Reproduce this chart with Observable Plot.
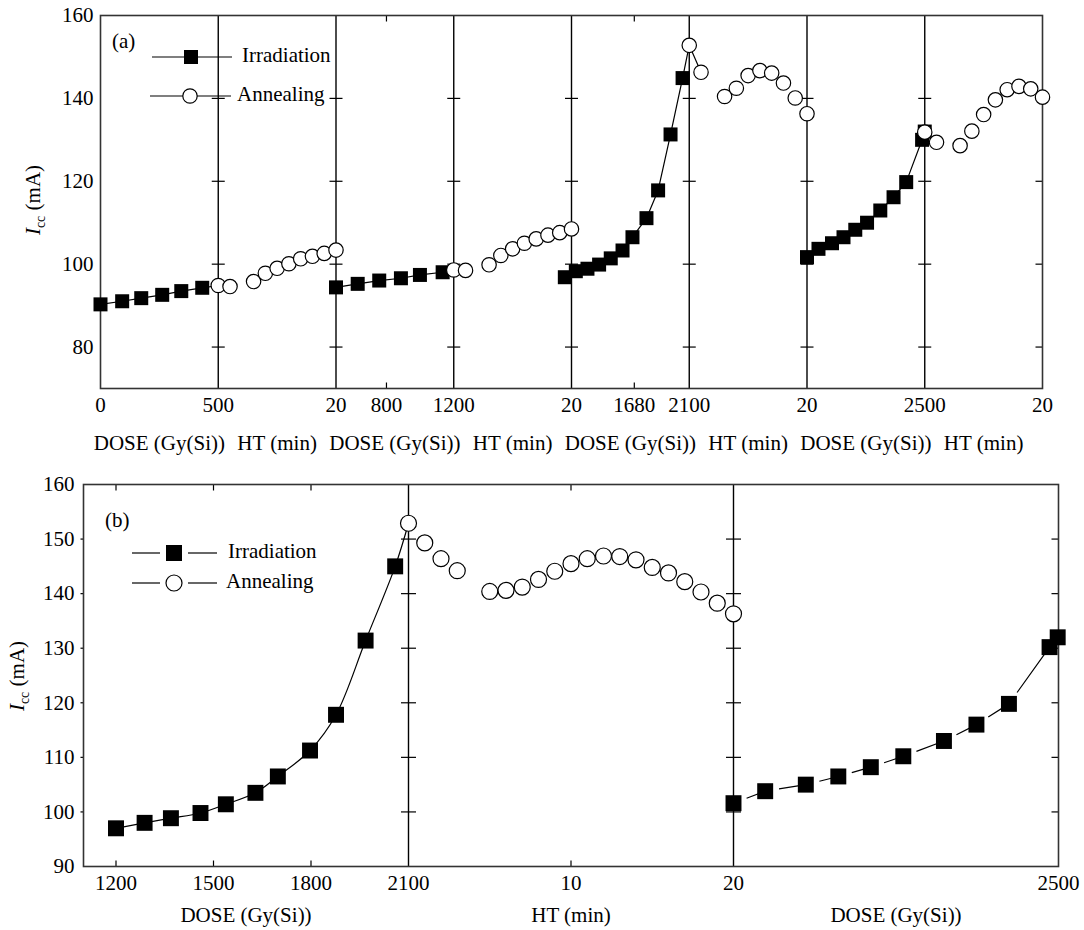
<!DOCTYPE html>
<html><head><meta charset="utf-8">
<script src="https://cdn.jsdelivr.net/npm/d3@7"></script>
<script src="https://cdn.jsdelivr.net/npm/@observablehq/plot@0.6"></script>
<style>
body{margin:0;background:#fff;}
#wrap{width:1084px;height:930px;}
#wrap svg{display:block;}
#wrap svg text, #wrap svg tspan{font-family:"Liberation Serif","Times New Roman",serif !important;}
</style></head><body><div id="wrap"></div>
<script>
// ---------- Panel (a) ----------
const segStartA = [0, 0, 500, 0, 1200, 0, 2100, 0];
const segEndA   = [500, 20, 1200, 20, 2100, 20, 2500, 20];
const segTitleA = ["DOSE (Gy(Si))","HT (min)","DOSE (Gy(Si))","HT (min)","DOSE (Gy(Si))","HT (min)","DOSE (Gy(Si))","HT (min)"];

const irrA1Dose = [0, 92, 173, 262, 343, 432];
const irrA1Icc  = [90.3, 91.05, 91.8, 92.6, 93.5, 94.3];
const annA1Min  = [0, 2, 6, 8, 10, 12, 14, 16, 18, 20];
const annA1Icc  = [94.85, 94.6, 95.8, 97.8, 99.0, 100.1, 101.3, 101.9, 102.6, 103.4];
const irrA2Dose = [500, 629, 757, 886, 999, 1134];
const irrA2Icc  = [94.4, 95.25, 96.05, 96.6, 97.4, 98.05];
const annA2Min  = [0, 2, 6, 8, 10, 12, 14, 16, 18, 20];
const annA2Icc  = [98.6, 98.5, 99.85, 102.1, 103.7, 105.05, 106.1, 107.0, 107.6, 108.5];
const irrA3Dose = [1149, 1233, 1322, 1411, 1500, 1590, 1666, 1773, 1862, 1957, 2049];
const irrA3Icc  = [96.85, 98.3, 98.9, 99.9, 101.4, 103.3, 106.5, 111.1, 117.8, 131.3, 144.9];
const annA3Min  = [0, 2, 6, 8, 10, 12, 14, 16, 18, 20];
const annA3Icc  = [152.8, 146.3, 140.45, 142.45, 145.5, 146.7, 146.1, 143.7, 140.1, 136.3];
const irrA4Dose = [2100, 2139, 2185, 2224, 2264, 2304, 2349, 2394, 2437, 2491, 2500];
const irrA4Icc  = [101.7, 103.7, 105.05, 106.5, 108.3, 110.0, 112.95, 116.15, 119.8, 130.0, 132.0];
const annA4Min  = [0, 2, 6, 8, 10, 12, 14, 16, 18, 20];
const annA4Icc  = [131.85, 129.4, 128.6, 132.1, 136.1, 139.65, 142.1, 142.9, 142.3, 140.3];

const tickSegA  = [0, 0, 1, 2, 2, 3, 4, 4, 5, 6, 7];
const tickValA  = [0, 500, 20, 800, 1200, 20, 1680, 2100, 20, 2500, 20];
const minorSegA = [2, 4];
const minorValA = [800, 1680];
const yTicksA   = [80, 100, 120, 140, 160];
const yInnerA   = [80, 100, 120, 140];

// ---------- Panel (b) ----------
const segStartB = [1100, 0, 2100];
const segEndB   = [2100, 20, 2500];
const segTitleB = ["DOSE (Gy(Si))","HT (min)","DOSE (Gy(Si))"];

const irrB1Dose = [1200, 1288, 1369, 1460, 1538, 1629, 1698, 1797, 1877, 1968, 2059];
const irrB1Icc  = [97.0, 98.0, 98.85, 99.8, 101.4, 103.5, 106.5, 111.25, 117.8, 131.4, 145.0];
const annBMin   = [0, 1, 2, 3, 5, 6, 7, 8, 9, 10, 11, 12, 13, 14, 15, 16, 17, 18, 19, 20];
const annBIcc   = [152.9, 149.3, 146.4, 144.2, 140.4, 140.6, 141.2, 142.6, 144.1, 145.5, 146.4, 146.9, 146.8, 146.2, 144.8, 143.8, 142.2, 140.3, 138.25, 136.3];
const irrB2Dose = [2100, 2139, 2189, 2229, 2269, 2309, 2359, 2399, 2439, 2489, 2499];
const irrB2Icc  = [101.6, 103.8, 105.0, 106.5, 108.2, 110.2, 113.0, 116.0, 119.8, 130.2, 132.0];

const tickSegB  = [0, 0, 0, 0, 1, 1, 2];
const tickValB  = [1200, 1500, 1800, 2100, 10, 20, 2500];
const minorSegB = [0, 0, 0, 1];
const minorValB = [1200, 1500, 1800, 10];
const yTicksB   = [90, 100, 110, 120, 130, 140, 150, 160];
const yInnerB   = [100, 110, 120, 130, 140, 150];

const legendLabels = ["Irradiation", "Annealing"];
const yTitleUnit = " (mA)";

// ---------- helpers ----------
const FONT = '"Liberation Serif","Times New Roman",serif';
const FS = 21;
const mkPos = (starts, ends) => (seg, v) => seg + (v - starts[seg]) / (ends[seg] - starts[seg]);
const pA = mkPos(segStartA, segEndA);
const pB = mkPos(segStartB, segEndB);
const seq = (f, seg, xs, ys, run) => xs.map((v, i) => ({x: f(seg, v), y: ys[i], run}));
const segSym = (x1, y1, x2, y2) => ({draw(ctx, size) { const r = Math.sqrt(size / Math.PI); ctx.moveTo(x1 * r, y1 * r); ctx.lineTo(x2 * r, y2 * r); }});
const hCross = segSym(-1, 0, 1, 0), hLeft = segSym(-1, 0, 0, 0), vUp = segSym(0, -1, 0, 0), vDown = segSym(0, 0, 0, 1);
const tickStyle = {fill: "none", stroke: "black", strokeWidth: 1.2};
const txt = {fontFamily: FONT, fontSize: FS, fill: "black"};

function addYTitle(svg, x, y) {
  const t = d3.select(svg).append("text")
    .attr("transform", `translate(${x},${y}) rotate(-90)`)
    .attr("text-anchor", "middle").attr("font-family", FONT).attr("font-size", FS).attr("fill", "black");
  t.append("tspan").attr("font-style", "italic").text("I");
  t.append("tspan").attr("font-size", 14).attr("dy", 5).text("cc");
  t.append("tspan").attr("dy", -5).text(yTitleUnit);
}

// ---------- build panel (a) ----------
const irrSetsA = [[irrA1Dose, irrA1Icc], [irrA2Dose, irrA2Icc], [irrA3Dose, irrA3Icc], [irrA4Dose, irrA4Icc]];
const annSetsA = [[annA1Min, annA1Icc], [annA2Min, annA2Icc], [annA3Min, annA3Icc], [annA4Min, annA4Icc]];
const sqA = irrSetsA.flatMap(([d, v], k) => seq(pA, 2 * k, d, v, k));
const ciA = annSetsA.flatMap(([t, v], k) => seq(pA, 2 * k + 1, t, v, k));
const irrLineA = irrSetsA.flatMap(([d, v], k) => [...seq(pA, 2 * k, d, v, k), ...seq(pA, 2 * k + 1, annSetsA[k][0].slice(0, 1), annSetsA[k][1].slice(0, 1), k)]);
const annLineA = annSetsA.flatMap(([t, v], k) => seq(pA, 2 * k + 1, t.slice(0, 2), v.slice(0, 2), k));
const dividersA = d3.range(1, segStartA.length);
const crossA = dividersA.flatMap(x => yInnerA.map(y => ({x, y})));
const rightA = yInnerA.map(y => ({x: segStartA.length, y}));
const minorA = minorValA.map((v, i) => ({x: pA(minorSegA[i], v)}));
const ticksA = tickValA.map((v, i) => ({x: pA(tickSegA[i], v), label: String(v)}));
const titlesA = segTitleA.map((t, i) => ({x: i + 0.5, t}));

const plotA = Plot.plot({
  width: 1084, height: 465, marginLeft: 100, marginRight: 42, marginTop: 15, marginBottom: 77,
  x: {domain: [0, segStartA.length], axis: null},
  y: {domain: [70, 160], axis: null},
  style: "background: white; overflow: visible;",
  marks: [
    Plot.ruleX(dividersA, {stroke: "black", strokeWidth: 1.4}),
    Plot.dot(crossA, {x: "x", y: "y", symbol: hCross, r: 6.5, ...tickStyle}),
    Plot.dot(rightA, {x: "x", y: "y", symbol: hLeft, r: 7, ...tickStyle}),
    Plot.dot(minorA, {x: "x", frameAnchor: "bottom", symbol: vUp, r: 6, ...tickStyle}),
    Plot.dot(minorA, {x: "x", frameAnchor: "top", symbol: vDown, r: 6, ...tickStyle}),
    Plot.frame({stroke: "#333", strokeWidth: 1.6}),
    Plot.line(irrLineA, {x: "x", y: "y", z: "run", stroke: "black", strokeWidth: 1.2}),
    Plot.line(annLineA, {x: "x", y: "y", z: "run", stroke: "black", strokeWidth: 1.2}),
    Plot.dot(sqA, {x: "x", y: "y", symbol: "square", r: 7.9, fill: "black"}),
    Plot.dot(ciA, {x: "x", y: "y", symbol: "circle", r: 7.2, fill: "white", stroke: "black", strokeWidth: 1.2}),
    Plot.text(ticksA, {x: "x", text: "label", frameAnchor: "bottom", dy: 17, lineAnchor: "middle", ...txt}),
    Plot.text(yTicksA, {y: d => d, text: d => String(d), frameAnchor: "left", dx: -7, textAnchor: "end", lineAnchor: "middle", ...txt}),
    Plot.text(titlesA, {x: "x", text: "t", frameAnchor: "bottom", dy: 55, lineAnchor: "middle", ...txt})
  ]
});

// ---------- build panel (b) ----------
const sqB1 = seq(pB, 0, irrB1Dose, irrB1Icc, 0);
const ciB = seq(pB, 1, annBMin, annBIcc, 1);
const sqB2 = seq(pB, 2, irrB2Dose, irrB2Icc, 2);
const curveB = [...sqB1, ciB[0]];
const pairsB2 = sqB2.slice(0, -1).map((d, i) => ({x1: d.x, y1: d.y, x2: sqB2[i + 1].x, y2: sqB2[i + 1].y}));
const dividersB = d3.range(1, segStartB.length);
const crossB = dividersB.flatMap(x => yInnerB.map(y => ({x, y})));
const rightB = yInnerB.map(y => ({x: segStartB.length, y}));
const leftB = yInnerB.map(y => ({x: 0, y}));
const minorB = minorValB.map((v, i) => ({x: pB(minorSegB[i], v)}));
const ticksB = tickValB.map((v, i) => ({x: pB(tickSegB[i], v), label: String(v)}));
const titlesB = segTitleB.map((t, i) => ({x: i + 0.5, t}));

const plotB = Plot.plot({
  width: 1084, height: 465, marginLeft: 83, marginRight: 26, marginTop: 19, marginBottom: 64,
  x: {domain: [0, segStartB.length], axis: null},
  y: {domain: [90, 160], axis: null},
  style: "background: white; overflow: visible;",
  marks: [
    Plot.ruleX(dividersB, {stroke: "black", strokeWidth: 1.4}),
    Plot.dot(crossB, {x: "x", y: "y", symbol: hCross, r: 7.5, ...tickStyle}),
    Plot.dot(rightB, {x: "x", y: "y", symbol: hLeft, r: 7, ...tickStyle}),
    Plot.dot(leftB, {x: "x", y: "y", symbol: hLeft, r: 3, ...tickStyle}),
    Plot.dot(minorB, {x: "x", frameAnchor: "bottom", symbol: vUp, r: 6, ...tickStyle}),
    Plot.dot(minorB, {x: "x", frameAnchor: "top", symbol: vDown, r: 6, ...tickStyle}),
    Plot.frame({stroke: "#333", strokeWidth: 1.6}),
    Plot.line(curveB, {x: "x", y: "y", curve: "catmull-rom", stroke: "black", strokeWidth: 1.2}),
    Plot.link(pairsB2, {x1: "x1", y1: "y1", x2: "x2", y2: "y2", strokeDasharray: "0 14 2000", stroke: "black", strokeWidth: 1.2}),
    Plot.dot([...sqB1, ...sqB2], {x: "x", y: "y", symbol: "square", r: 9, fill: "black"}),
    Plot.dot(ciB, {x: "x", y: "y", symbol: "circle", r: 8, fill: "white", stroke: "black", strokeWidth: 1.2}),
    Plot.text(ticksB, {x: "x", text: "label", frameAnchor: "bottom", dy: 17, lineAnchor: "middle", ...txt}),
    Plot.text(yTicksB, {y: d => d, text: d => String(d), frameAnchor: "left", dx: -9, textAnchor: "end", lineAnchor: "middle", ...txt}),
    Plot.text(titlesB, {x: "x", text: "t", frameAnchor: "bottom", dy: 49, lineAnchor: "middle", ...txt})
  ]
});

// ---------- legends, panel letters, y titles ----------
function legend(svg, o) {
  const g = d3.select(svg).append("g").attr("font-family", FONT).attr("font-size", FS).attr("fill", "black").attr("text-anchor", "start");
  g.append("text").attr("x", o.letterX).attr("y", o.letterY).attr("dominant-baseline", "middle").text(o.letter);
  o.rows.forEach((r, i) => {
    r.lines.forEach(([a, b]) => g.append("line").attr("x1", a).attr("x2", b).attr("y1", r.y).attr("y2", r.y).attr("stroke", "black").attr("stroke-width", 1.2));
    if (i === 0) g.append("rect").attr("x", r.mx - o.sq / 2).attr("y", r.y - o.sq / 2).attr("width", o.sq).attr("height", o.sq).attr("fill", "black");
    else g.append("circle").attr("cx", r.mx).attr("cy", r.y).attr("r", o.cr).attr("fill", "white").attr("stroke", "black").attr("stroke-width", 1.2);
    g.append("text").attr("x", r.tx).attr("y", r.y).attr("dominant-baseline", "middle").text(legendLabels[i]);
  });
}
legend(plotA, {letter: "(a)", letterX: 112, letterY: 43, sq: 14, cr: 7.2, rows: [
  {y: 57, lines: [[152, 232]], mx: 191, tx: 242},
  {y: 96, lines: [[150, 231]], mx: 190, tx: 237}
]});
legend(plotB, {letter: "(b)", letterX: 105, letterY: 57, sq: 16, cr: 8, rows: [
  {y: 88, lines: [[132, 160], [188, 217]], mx: 174, tx: 228},
  {y: 118, lines: [[132, 160], [188, 217]], mx: 174, tx: 226}
]});
addYTitle(plotA, 40, 200);
addYTitle(plotB, 24, 211);

document.getElementById("wrap").append(plotA, plotB);
</script></body></html>
